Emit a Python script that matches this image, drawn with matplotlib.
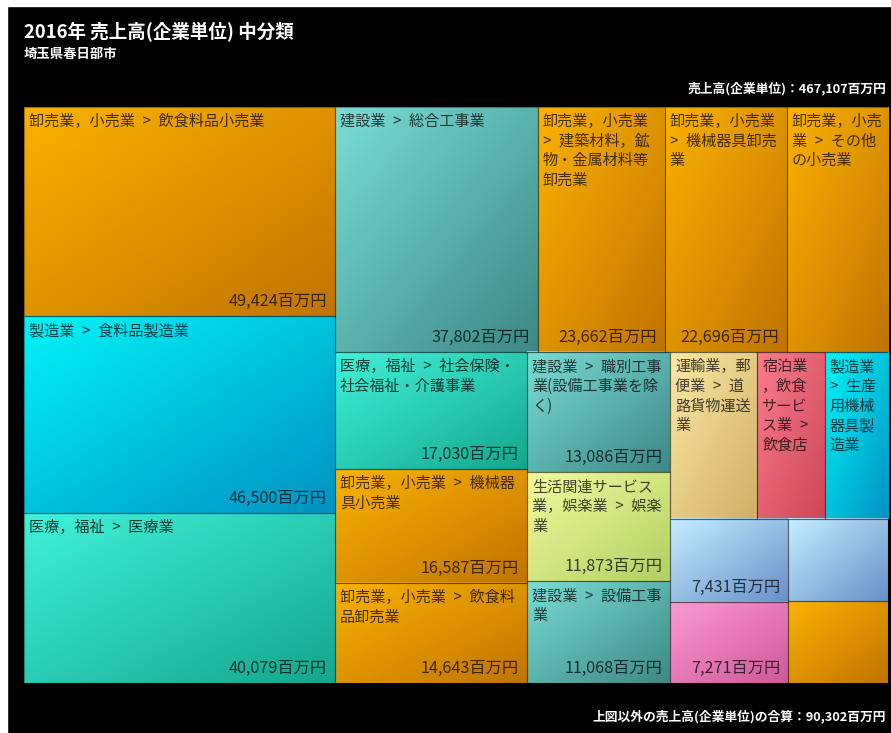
import numpy as np
import matplotlib.pyplot as plt
from matplotlib.patches import Rectangle
from matplotlib.colors import to_rgb
from matplotlib.font_manager import FontProperties

plt.rcParams['font.family'] = ['Noto Sans CJK JP', 'DejaVu Sans']

# 中分類ごとの売上高(企業単位, 百万円)
labels = [
    '卸売業，小売業 > 飲食料品小売業',
    '製造業 > 食料品製造業',
    '医療，福祉 > 医療業',
    '建設業 > 総合工事業',
    '卸売業，小売業 > 建築材料，鉱物・金属材料等卸売業',
    '卸売業，小売業 > 機械器具卸売業',
    '卸売業，小売業 > その他の小売業',
    '医療，福祉 > 社会保険・社会福祉・介護事業',
    '卸売業，小売業 > 機械器具小売業',
    '卸売業，小売業 > 飲食料品卸売業',
    '建設業 > 職別工事業(設備工事業を除く)',
    '生活関連サービス業，娯楽業 > 娯楽業',
    '建設業 > 設備工事業',
    '運輸業，郵便業 > 道路貨物運送業',
    '宿泊業，飲食サービス業 > 飲食店',
    '製造業 > 生産用機械器具製造業',
    '', '', '', '',
]
sales = [49424, 46500, 40079, 37802, 23662, 22696, 18900, 17030, 16587,
         14643, 13086, 11873, 11068, 10980, 8520, 8000, 7431, 7271, 6260, 6188]
sectors = ['卸売', '製造', '医療', '建設', '卸売', '卸売', '卸売', '医療', '卸売',
           '卸売', '建設', '生活', '建設', '運輸', '宿泊', '製造', '青', '桃', '青', '卸売']

total_sales = 467107
other_sales = 90302

# 左上が明るく右下が暗いグラデーション
palette = {
    '卸売': ('#fbb200', '#c07400'),
    '製造': ('#00f4f8', '#0092c2'),
    '医療': ('#40f2d8', '#14a68e'),
    '建設': ('#7adcd6', '#3c8884'),
    '運輸': ('#fbe9a4', '#d2ae66'),
    '宿泊': ('#fa7c8c', '#cc4658'),
    '生活': ('#f2fa9e', '#b0d062'),
    '青':   ('#c4eeff', '#6890c8'),
    '桃':   ('#fb9ad2', '#d0589a'),
}


def squarify(vals, x0, y0, x1, y1, ratio=(1 + 5 ** 0.5) / 2):
    rects = []
    rest = float(sum(vals))
    i0, n = 0, len(vals)
    while i0 < n:
        dx, dy = x1 - x0, y1 - y0
        s = lo = hi = vals[i0]
        i1 = i0 + 1
        alpha = max(dy / dx, dx / dy) / (rest * ratio)
        beta = s * s * alpha
        best = max(hi / beta, beta / lo)
        while i1 < n:
            v = vals[i1]
            beta = (s + v) ** 2 * alpha
            r = max(max(hi, v) / beta, beta / min(lo, v))
            if r > best:
                break
            s += v
            best = r
            lo, hi = min(lo, v), max(hi, v)
            i1 += 1
        if dx < dy:
            h = dy * s / rest
            x = x0
            for v in vals[i0:i1]:
                w = dx * v / s
                rects.append((x, y0, w, h))
                x += w
            y0 += h
        else:
            w = dx * s / rest
            y = y0
            for v in vals[i0:i1]:
                h = dy * v / s
                rects.append((x0, y, w, h))
                y += h
            x0 += w
        rest -= s
        i0 = i1
    return rects


W, H = 864, 576
fig = plt.figure(figsize=(8.91, 7.33), dpi=100, facecolor='black')
fig.patches.append(Rectangle((0, 0), 7 / 891, 1, transform=fig.transFigure,
                             color='white', zorder=-5))
fig.patches.append(Rectangle((0, 1 - 6 / 733), 1, 6 / 733, transform=fig.transFigure,
                             color='white', zorder=-5))
ax = fig.add_axes([24 / 891, (733 - 683) / 733, W / 891, H / 733])
ax.set_facecolor('black')
ax.axis('off')

renderer = fig.canvas.get_renderer()
fs_lab, fs_val = 10.9, 11.7
prop_lab = FontProperties(family=['Noto Sans CJK JP'], size=fs_lab)
prop_val = FontProperties(family=['Noto Sans CJK JP'], size=fs_val)


def text_w(s, prop):
    return renderer.get_text_width_height_descent(s, prop, ismath=False)[0]


def wrap(text, max_w):
    # 区切りの空白は少し広めに取る
    text = text.replace(' ', '\u2002')
    lines, cur = [], ''
    for ch in text:
        if cur == '' and ch.isspace():
            continue
        if cur and text_w((cur + ch).rstrip(), prop_lab) > max_w:
            lines.append(cur.rstrip())
            cur = ch.strip()
        else:
            cur += ch
    if cur.strip():
        lines.append(cur.rstrip())
    return lines


u = np.linspace(0, 1, 80)
grad = (u[None, :] + u[:, None]) / 2
line_h = fs_lab * 1.2 * 100 / 72

for (x, y, w, h), name, val, sec in zip(squarify(sales, 0, 0, W, H), labels, sales, sectors):
    c0, c1 = np.array(to_rgb(palette[sec][0])), np.array(to_rgb(palette[sec][1]))
    img = c0 * (1 - grad[..., None]) + c1 * grad[..., None]
    ax.imshow(img, extent=(x, x + w, y + h, y), origin='upper',
              interpolation='bilinear', aspect='auto', zorder=1)
    ax.add_patch(Rectangle((x, y), w, h, facecolor='none',
                           edgecolor=(0, 0, 0, 0.35), lw=0.8, zorder=2))
    used = 4
    if name:
        lines = wrap(name, w - 10)
        if len(lines) * line_h + 6 <= h:
            ax.text(x + 5, y + 6, '\n'.join(lines), fontproperties=prop_lab,
                    color=(0, 0, 0, 0.72), va='top', ha='left',
                    linespacing=1.2, zorder=3)
            used += len(lines) * line_h
    vtxt = f'{val:,}百万円'
    if text_w(vtxt, prop_val) + 13 <= w and used + 22 <= h:
        ax.text(x + w - 8, y + h - 6, vtxt, fontproperties=prop_val,
                color=(0, 0, 0, 0.72), va='bottom', ha='right', zorder=3)

ax.set_xlim(0, W)
ax.set_ylim(H, 0)

fig.text(24 / 891, 1 - 32 / 733, '2016年 売上高(企業単位) 中分類', color='white',
         fontsize=13.3, fontweight='bold', va='center', ha='left')
fig.text(24 / 891, 1 - 54 / 733, '埼玉県春日部市', color='white',
         fontsize=9.6, fontweight='bold', va='center', ha='left')
fig.text(886 / 891, 1 - 88 / 733, f'売上高(企業単位)：{total_sales:,}百万円',
         color='white', fontsize=9.2, fontweight='bold', va='center', ha='right')
fig.text(886 / 891, 1 - 716 / 733, f'上図以外の売上高(企業単位)の合算：{other_sales:,}百万円',
         color='white', fontsize=9.2, fontweight='bold', va='center', ha='right')

fig.savefig('out.png', dpi=100, facecolor=fig.get_facecolor())
